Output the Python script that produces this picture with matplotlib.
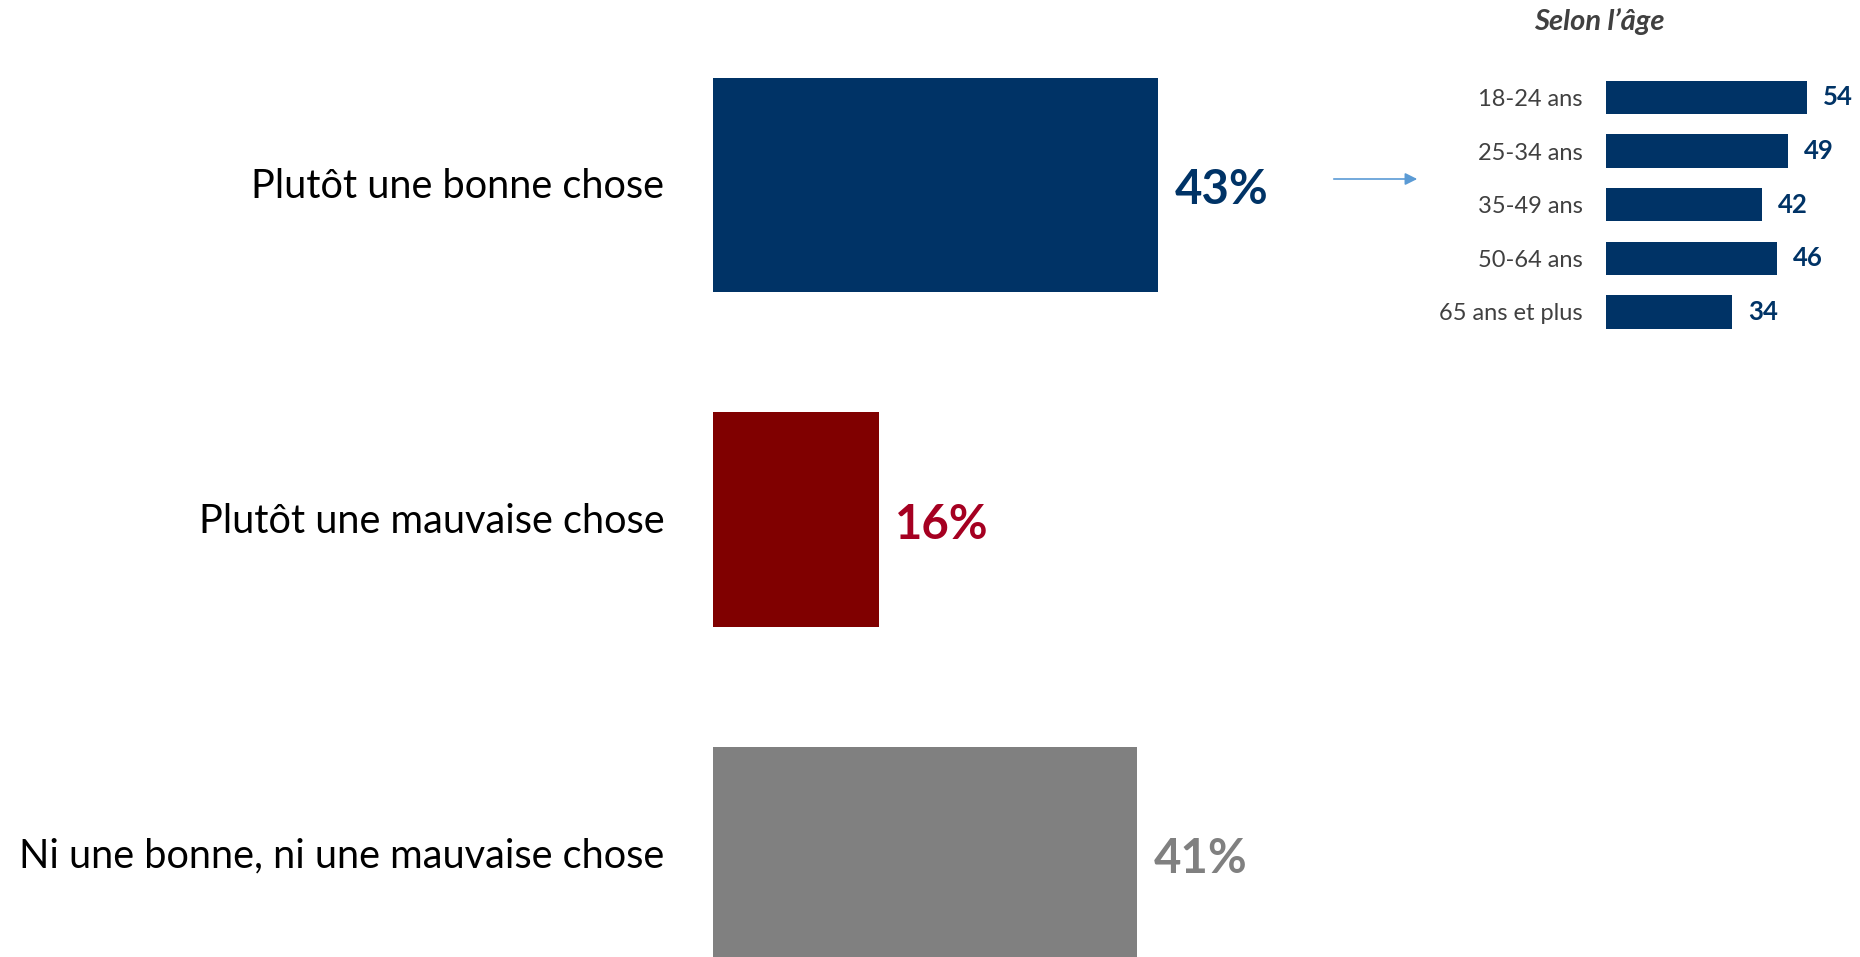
import matplotlib
matplotlib.use("Agg")
import matplotlib.pyplot as plt
from matplotlib.patches import FancyArrowPatch

plt.rcParams['font.family'] = ['Lato', 'DejaVu Sans']

# main question
categories = ["Plutôt une bonne chose", "Plutôt une mauvaise chose",
              "Ni une bonne, ni une mauvaise chose"]
values = [43, 16, 41]
bar_colors = ["#003366", "#800000", "#808080"]
label_colors = ["#003366", "#A50021", "#808080"]

# breakdown by age
age_groups = ["18-24 ans", "25-34 ans", "35-49 ans", "50-64 ans", "65 ans et plus"]
age_values = [54, 49, 42, 46, 34]
age_title = "Selon l’âge"

W, H = 1860, 957
fig = plt.figure(figsize=(W / 100, H / 100), dpi=100)

# main bars: x=0 at 713px, 10.35 px per %
px_per = 10.35
ax_left, ax_right = 713, 1300
ax = fig.add_axes([ax_left / W, 0, (ax_right - ax_left) / W, 1])
pos = list(range(len(values)))
ax.barh(pos, values, height=0.64, color=bar_colors, edgecolor='none')
ax.set_xlim(0, (ax_right - ax_left) / px_per)
ax.set_ylim(2.308, -0.553)
ax.set_yticks([])
ax.set_xticks([])
for s in ax.spines.values():
    s.set_visible(False)
for i, cat in enumerate(categories):
    # baseline a bit below bar centre
    ax.text(-4.7, i + 0.04, cat, ha='right', va='baseline', fontsize=28.6,
            color='black', clip_on=False)
for i, v in enumerate(values):
    ax.text(v + 1.6, i + 0.058, f"{v}%", va='baseline', ha='left', fontsize=34,
            fontweight='bold', color=label_colors[i], clip_on=False)

# inset bars: x=0 at 1606px, 3.72 px per unit
ipx = 3.72
in_left, in_top, in_h = 1606, 70, 270
ax2 = fig.add_axes([in_left / W, 1 - (in_top + in_h) / H, 240 / W, in_h / H])
ipos = list(range(len(age_values)))
ax2.barh(ipos, age_values, height=0.62, color="#003366", edgecolor='none')
ax2.set_xlim(0, 240 / ipx)
ax2.set_ylim(4.524, -0.513)
ax2.set_yticks(ipos)
ax2.set_yticklabels(age_groups, fontsize=17, color='#404040')
ax2.tick_params(axis='y', length=0, pad=17)
ax2.set_xticks([])
for s in ax2.spines.values():
    s.set_visible(False)
for i, v in enumerate(age_values):
    ax2.text(v + 4.3, i, str(v), va='center', ha='left', fontsize=18.5,
             fontweight='bold', color="#003366", clip_on=False)

fig.text(1599 / W, 1 - 22 / H, age_title, ha='center', va='center',
         fontsize=21, fontweight='bold', fontstyle='italic', color='#404040')

arrow = FancyArrowPatch((1331 / W, 1 - 179 / H), (1420 / W, 1 - 179 / H),
                        transform=fig.transFigure, arrowstyle='-|>',
                        mutation_scale=18, color='#5B9BD5', linewidth=1.2)
fig.patches.append(arrow)

fig.savefig("out.png", dpi=100, facecolor='white')
